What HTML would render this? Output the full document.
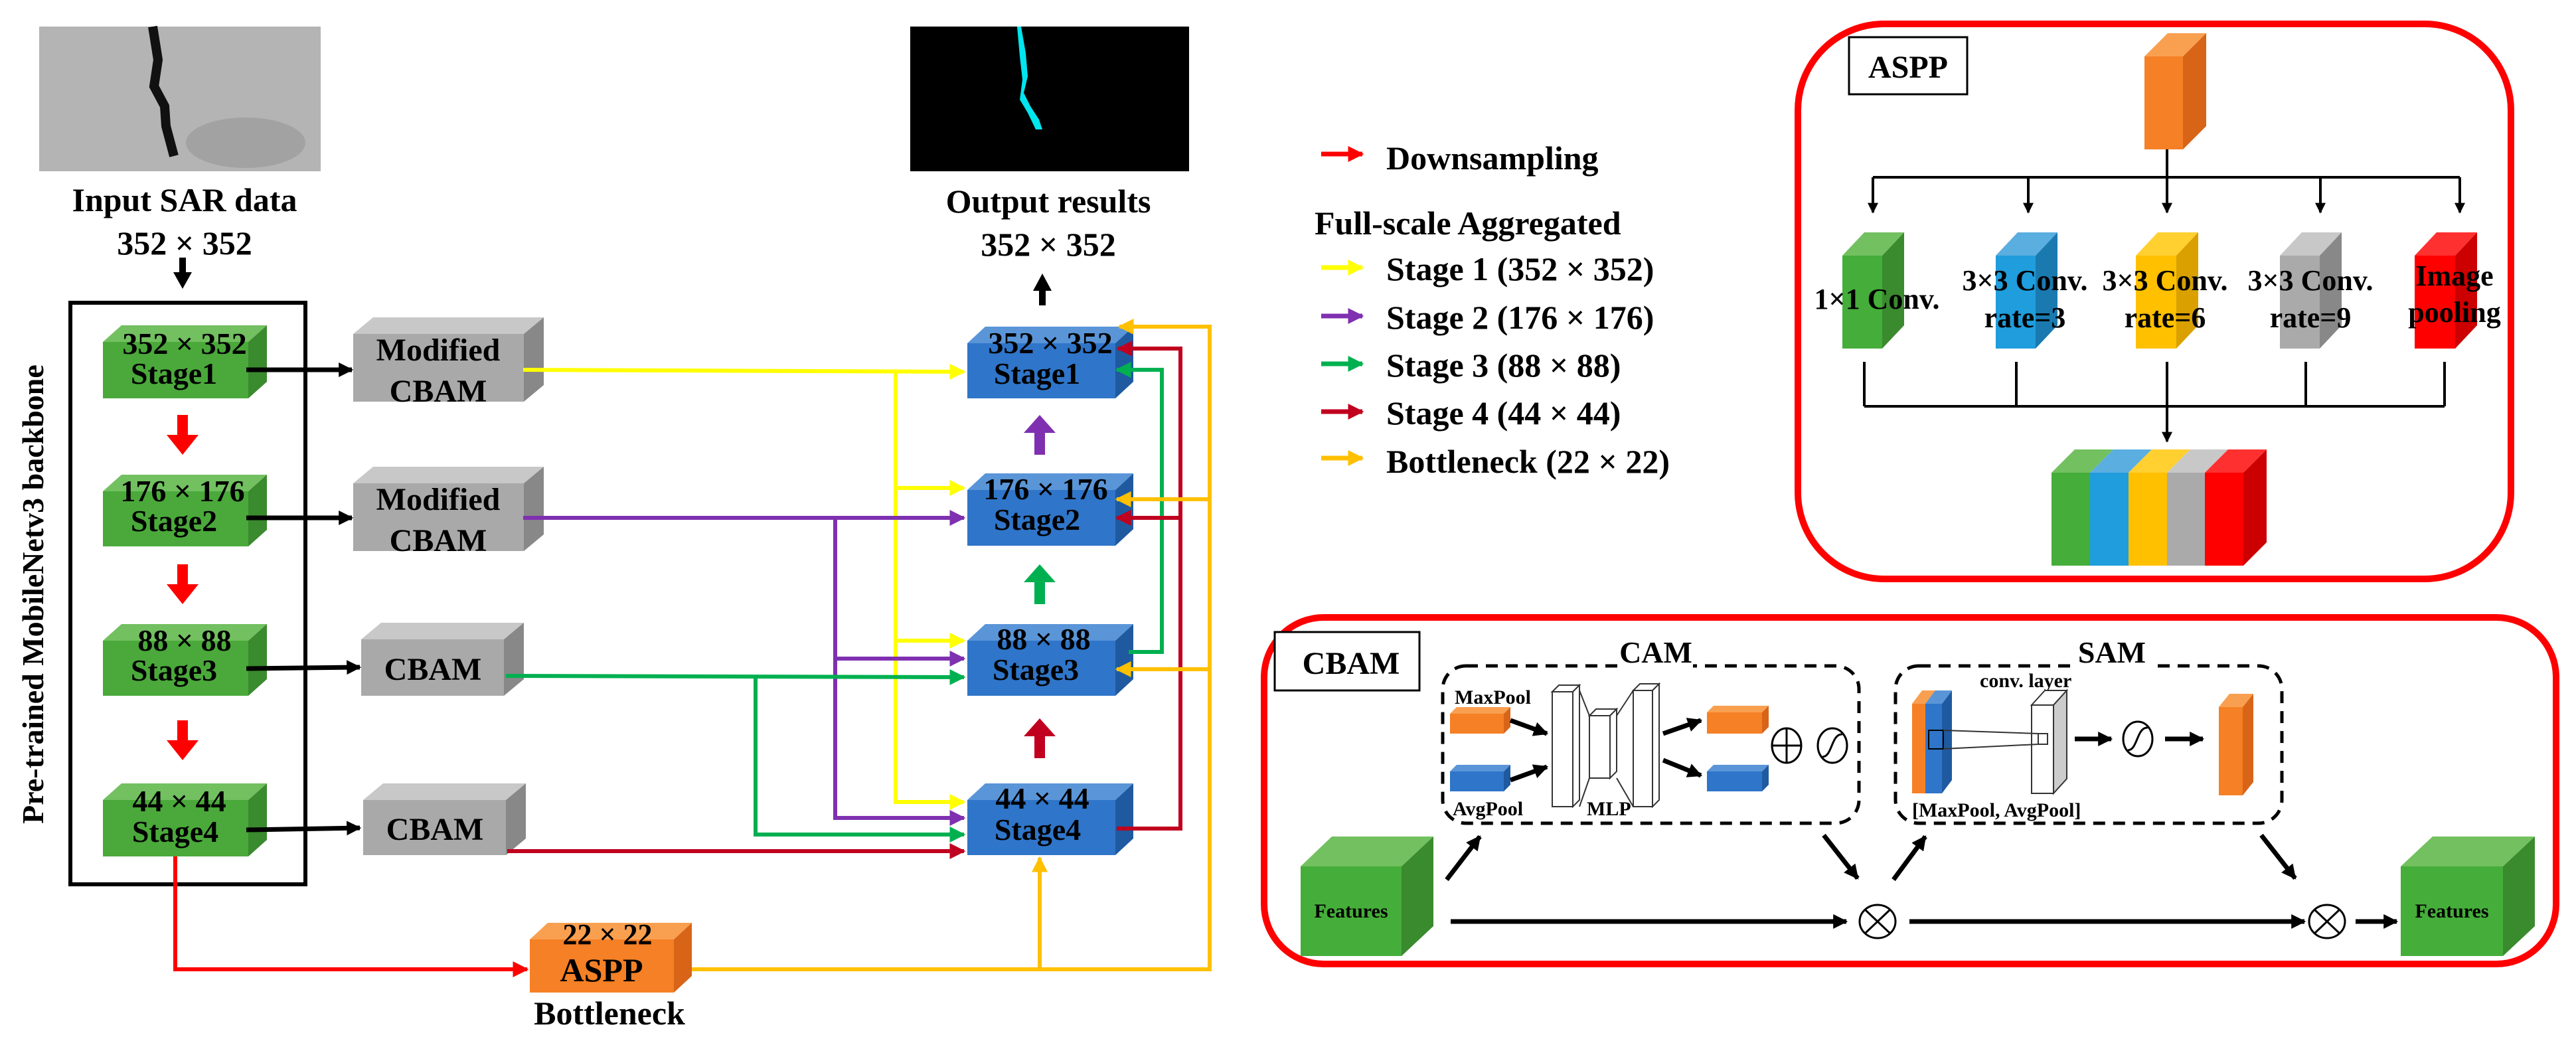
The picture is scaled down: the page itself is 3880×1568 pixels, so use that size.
<!DOCTYPE html>
<html><head><meta charset="utf-8"><style>html,body{margin:0;padding:0;background:#fff}svg{display:block}</style></head><body>
<svg width="3880" height="1568" viewBox="0 0 3880 1568" xmlns="http://www.w3.org/2000/svg" font-family="Liberation Serif, serif" font-weight="bold">
<defs>
<marker id="mk" viewBox="0 0 10 10" refX="9" refY="5" markerWidth="22" markerHeight="22" markerUnits="userSpaceOnUse" orient="auto"><path d="M0,0L10,5L0,10z" fill="#000"/></marker>
<marker id="my" viewBox="0 0 10 10" refX="9" refY="5" markerWidth="24" markerHeight="24" markerUnits="userSpaceOnUse" orient="auto"><path d="M0,0L10,5L0,10z" fill="#ffff00"/></marker>
<marker id="mp" viewBox="0 0 10 10" refX="9" refY="5" markerWidth="24" markerHeight="24" markerUnits="userSpaceOnUse" orient="auto"><path d="M0,0L10,5L0,10z" fill="#7f30b0"/></marker>
<marker id="mg" viewBox="0 0 10 10" refX="9" refY="5" markerWidth="24" markerHeight="24" markerUnits="userSpaceOnUse" orient="auto"><path d="M0,0L10,5L0,10z" fill="#00b050"/></marker>
<marker id="mc" viewBox="0 0 10 10" refX="9" refY="5" markerWidth="24" markerHeight="24" markerUnits="userSpaceOnUse" orient="auto"><path d="M0,0L10,5L0,10z" fill="#c0001e"/></marker>
<marker id="mo" viewBox="0 0 10 10" refX="9" refY="5" markerWidth="24" markerHeight="24" markerUnits="userSpaceOnUse" orient="auto"><path d="M0,0L10,5L0,10z" fill="#ffc000"/></marker>
<marker id="mr" viewBox="0 0 10 10" refX="9" refY="5" markerWidth="24" markerHeight="24" markerUnits="userSpaceOnUse" orient="auto"><path d="M0,0L10,5L0,10z" fill="#ff0000"/></marker>
<marker id="ms" viewBox="0 0 10 10" refX="9" refY="5" markerWidth="16" markerHeight="16" markerUnits="userSpaceOnUse" orient="auto"><path d="M0,0L10,5L0,10z" fill="#000"/></marker>
</defs>

<!-- input image -->
<rect x="59" y="40" width="424" height="218" fill="#b4b4b4"/>
<ellipse cx="370" cy="215" rx="90" ry="38" fill="#a2a2a2"/>
<path d="M230,40 L238,90 L232,130 L248,160 L250,190 L262,235" stroke="#111" stroke-width="14" fill="none"/>
<text x="278" y="318" font-size="50" text-anchor="middle">Input SAR data</text>
<text x="278" y="383" font-size="50" text-anchor="middle">352 × 352</text>
<path d="M275,388 V412" stroke="#000" stroke-width="10"/><path d="M261,410 L289,410 L275,435z"/>

<!-- output image -->
<rect x="1371" y="40" width="420" height="218" fill="#000"/>
<path d="M1538,40 L1545,80 L1548,115 L1542,140 L1552,160 L1565,180 L1570,195 L1560,195 L1548,170 L1536,150 L1540,120 L1536,85 L1532,40z" fill="#00e5ee"/>
<text x="1579" y="320" font-size="50" text-anchor="middle">Output results</text>
<text x="1579" y="385" font-size="50" text-anchor="middle">352 × 352</text>
<path d="M1570,435 V460" stroke="#000" stroke-width="10"/><path d="M1556,438 L1584,438 L1570,412z"/>

<!-- backbone box -->
<rect x="106" y="456" width="354" height="876" fill="none" stroke="#000" stroke-width="6"/>
<text transform="translate(65,895) rotate(-90)" font-size="46" text-anchor="middle">Pre-trained MobileNetv3 backbone</text>

<g>
<polygon points="155,515 183,490 402,490 374,515" fill="#72c060"/><polygon points="374,515 402,490 402,575 374,600" fill="#3a8a2e"/><rect x="155" y="515" width="219" height="85" fill="#4aa93a"/>
<polygon points="155,740 183,715 402,715 374,740" fill="#72c060"/><polygon points="374,740 402,715 402,798 374,823" fill="#3a8a2e"/><rect x="155" y="740" width="219" height="83" fill="#4aa93a"/>
<polygon points="155,965 183,940 402,940 374,965" fill="#72c060"/><polygon points="374,965 402,940 402,1023 374,1048" fill="#3a8a2e"/><rect x="155" y="965" width="219" height="83" fill="#4aa93a"/>
<polygon points="155,1205 183,1180 402,1180 374,1205" fill="#72c060"/><polygon points="374,1205 402,1180 402,1265 374,1290" fill="#3a8a2e"/><rect x="155" y="1205" width="219" height="85" fill="#4aa93a"/>
</g>
<g font-size="46" text-anchor="middle">
<text x="278" y="533">352 × 352</text><text x="262" y="578">Stage1</text>
<text x="275" y="755">176 × 176</text><text x="262" y="800">Stage2</text>
<text x="278" y="980">88 × 88</text><text x="262" y="1025">Stage3</text>
<text x="270" y="1222">44 × 44</text><text x="264" y="1268">Stage4</text>
</g>
<g fill="#ff0000">
<rect x="267" y="625" width="16" height="32"/><path d="M251,655 L299,655 L275,685z"/>
<rect x="267" y="850" width="16" height="32"/><path d="M251,880 L299,880 L275,910z"/>
<rect x="267" y="1085" width="16" height="32"/><path d="M251,1115 L299,1115 L275,1145z"/>
</g>
<g stroke="#000" stroke-width="7" marker-end="url(#mk)">
<line x1="371" y1="557" x2="530" y2="557"/><line x1="371" y1="780" x2="530" y2="780"/>
<line x1="371" y1="1007" x2="542" y2="1005"/><line x1="371" y1="1250" x2="542" y2="1247"/>
</g>
<polygon points="532,503 562,478 819,478 789,503" fill="#c8c8c8"/><polygon points="789,503 819,478 819,580 789,605" fill="#888"/><rect x="532" y="503" width="257" height="102" fill="#a9a9a9"/>
<polygon points="532,728 562,703 819,703 789,728" fill="#c8c8c8"/><polygon points="789,728 819,703 819,805 789,830" fill="#888"/><rect x="532" y="728" width="257" height="102" fill="#a9a9a9"/>
<polygon points="544,963 574,938 789,938 759,963" fill="#c8c8c8"/><polygon points="759,963 789,938 789,1023 759,1048" fill="#888"/><rect x="544" y="963" width="215" height="85" fill="#a9a9a9"/>
<polygon points="547,1205 577,1180 792,1180 762,1205" fill="#c8c8c8"/><polygon points="762,1205 792,1180 792,1263 762,1288" fill="#888"/><rect x="547" y="1205" width="215" height="83" fill="#a9a9a9"/>
<g font-size="48" text-anchor="middle">
<text x="660" y="543">Modified</text><text x="660" y="605">CBAM</text>
<text x="660" y="768">Modified</text><text x="660" y="830">CBAM</text>
<text x="652" y="1024">CBAM</text><text x="655" y="1265">CBAM</text>
</g>

<g fill="none" stroke-width="6">
<polyline points="788,557 1452,560" stroke="#ffff00" marker-end="url(#my)"/>
<polyline points="1349,560 1349,1208 1452,1208" stroke="#ffff00" marker-end="url(#my)"/>
<polyline points="1349,735 1452,735" stroke="#ffff00" marker-end="url(#my)"/>
<polyline points="1349,965 1452,965" stroke="#ffff00" marker-end="url(#my)"/>
<polyline points="788,780 1452,780" stroke="#7f30b0" marker-end="url(#mp)"/>
<polyline points="1258,780 1258,1232 1452,1232" stroke="#7f30b0" marker-end="url(#mp)"/>
<polyline points="1258,992 1452,992" stroke="#7f30b0" marker-end="url(#mp)"/>
<polyline points="762,1018 1452,1020" stroke="#00b050" marker-end="url(#mg)"/>
<polyline points="1138,1020 1138,1257 1452,1257" stroke="#00b050" marker-end="url(#mg)"/>
<polyline points="764,1282 1452,1282" stroke="#c0001e" marker-end="url(#mc)"/>
<polyline points="264,1290 264,1460 794,1460" stroke="#ff0000" marker-end="url(#mr)"/>
</g>

<polygon points="1457,517 1484,492 1707,492 1680,517" fill="#5a95d8"/><polygon points="1680,517 1707,492 1707,575 1680,600" fill="#1f5aa0"/><rect x="1457" y="517" width="223" height="83" fill="#2f75c9"/>
<polygon points="1457,738 1484,713 1707,713 1680,738" fill="#5a95d8"/><polygon points="1680,738 1707,713 1707,797 1680,822" fill="#1f5aa0"/><rect x="1457" y="738" width="223" height="84" fill="#2f75c9"/>
<polygon points="1457,965 1484,940 1707,940 1680,965" fill="#5a95d8"/><polygon points="1680,965 1707,940 1707,1023 1680,1048" fill="#1f5aa0"/><rect x="1457" y="965" width="223" height="83" fill="#2f75c9"/>
<polygon points="1457,1205 1484,1180 1707,1180 1680,1205" fill="#5a95d8"/><polygon points="1680,1205 1707,1180 1707,1263 1680,1288" fill="#1f5aa0"/><rect x="1457" y="1205" width="223" height="83" fill="#2f75c9"/>
<g font-size="46" text-anchor="middle">
<text x="1582" y="532">352 × 352</text><text x="1562" y="578">Stage1</text>
<text x="1575" y="752">176 × 176</text><text x="1562" y="798">Stage2</text>
<text x="1572" y="978">88 × 88</text><text x="1560" y="1024">Stage3</text>
<text x="1570" y="1218">44 × 44</text><text x="1563" y="1265">Stage4</text>
</g>

<g fill="none" stroke-width="6">
<polyline points="1700,982 1750,982 1750,557 1682,557" stroke="#00b050" marker-end="url(#mg)"/>
<polyline points="1682,1248 1778,1248 1778,525 1684,525" stroke="#c0001e" marker-end="url(#mc)"/>
<polyline points="1778,780 1682,780" stroke="#c0001e" marker-end="url(#mc)"/>
<polyline points="1042,1460 1822,1460 1822,492 1686,492" stroke="#ffc000" marker-end="url(#mo)"/>
<polyline points="1822,752 1682,752" stroke="#ffc000" marker-end="url(#mo)"/>
<polyline points="1822,1008 1682,1008" stroke="#ffc000" marker-end="url(#mo)"/>
<polyline points="1566,1460 1566,1292" stroke="#ffc000" marker-end="url(#mo)"/>
</g>

<rect x="1558" y="650" width="16" height="35" fill="#7f30b0"/><path d="M1542,652 L1590,652 L1566,625z" fill="#7f30b0"/>
<rect x="1558" y="875" width="16" height="35" fill="#00b050"/><path d="M1542,877 L1590,877 L1566,850z" fill="#00b050"/>
<rect x="1558" y="1107" width="16" height="35" fill="#c0001e"/><path d="M1542,1109 L1590,1109 L1566,1082z" fill="#c0001e"/>

<polygon points="798,1415 825,1390 1042,1390 1015,1415" fill="#f9a050"/><polygon points="1015,1415 1042,1390 1042,1470 1015,1495" fill="#d86418"/><rect x="798" y="1415" width="217" height="80" fill="#f58025"/>
<text x="915" y="1422" font-size="44" text-anchor="middle">22 × 22</text>
<text x="906" y="1478" font-size="50" text-anchor="middle">ASPP</text>
<text x="918" y="1543" font-size="50" text-anchor="middle">Bottleneck</text>

<g font-size="50">
<line x1="1990" y1="232" x2="2052" y2="232" stroke="#ff0000" stroke-width="7" marker-end="url(#mr)"/>
<text x="2088" y="255">Downsampling</text>
<text x="1980" y="353">Full-scale Aggregated</text>
<line x1="1990" y1="403" x2="2052" y2="403" stroke="#ffff00" stroke-width="7" marker-end="url(#my)"/>
<text x="2088" y="422">Stage 1 (352 × 352)</text>
<line x1="1990" y1="476" x2="2052" y2="476" stroke="#7f30b0" stroke-width="7" marker-end="url(#mp)"/>
<text x="2088" y="495">Stage 2 (176 × 176)</text>
<line x1="1990" y1="548" x2="2052" y2="548" stroke="#00b050" stroke-width="7" marker-end="url(#mg)"/>
<text x="2088" y="567">Stage 3 (88 × 88)</text>
<line x1="1990" y1="620" x2="2052" y2="620" stroke="#c0001e" stroke-width="7" marker-end="url(#mc)"/>
<text x="2088" y="639">Stage 4 (44 × 44)</text>
<line x1="1990" y1="690" x2="2052" y2="690" stroke="#ffc000" stroke-width="7" marker-end="url(#mo)"/>
<text x="2088" y="712">Bottleneck (22 × 22)</text>
</g>

<rect x="2708" y="36" width="1074" height="836" rx="130" fill="none" stroke="#ff0000" stroke-width="10"/>
<rect x="2785" y="56" width="178" height="86" fill="#fff" stroke="#000" stroke-width="3"/>
<text x="2874" y="117" font-size="48" text-anchor="middle">ASPP</text>
<polygon points="3230,85 3265,50 3323,50 3288,85" fill="#f9a050"/><polygon points="3288,85 3323,50 3323,190 3288,225" fill="#d86418"/><rect x="3230" y="85" width="58" height="140" fill="#f58025"/>
<g stroke="#000" stroke-width="4" fill="none">
<path d="M3264,225 V267 M2821,267 H3705"/>
<line x1="2821" y1="267" x2="2821" y2="320" marker-end="url(#ms)"/>
<line x1="3055" y1="267" x2="3055" y2="320" marker-end="url(#ms)"/>
<line x1="3264" y1="267" x2="3264" y2="320" marker-end="url(#ms)"/>
<line x1="3495" y1="267" x2="3495" y2="320" marker-end="url(#ms)"/>
<line x1="3705" y1="267" x2="3705" y2="320" marker-end="url(#ms)"/>
<path d="M2808,545 V612 M3037,545 V612 M3473,545 V612 M3682,545 V612 M2808,612 H3682 M3264,545 V612"/>
<line x1="3264" y1="612" x2="3264" y2="665" marker-end="url(#ms)"/>
</g>
<g>
<polygon points="2775,385 2808,350 2868,350 2835,385" fill="#72c060"/><polygon points="2835,385 2868,350 2868,490 2835,525" fill="#3a8a2e"/><rect x="2775" y="385" width="60" height="140" fill="#45ad3a"/>
<polygon points="3006,385 3039,350 3099,350 3066,385" fill="#5aaee0"/><polygon points="3066,385 3099,350 3099,490 3066,525" fill="#1a7ab0"/><rect x="3006" y="385" width="60" height="140" fill="#1f9ddc"/>
<polygon points="3217,385 3250,350 3311,350 3278,385" fill="#ffd030"/><polygon points="3278,385 3311,350 3311,490 3278,525" fill="#d9a000"/><rect x="3217" y="385" width="61" height="140" fill="#ffc000"/>
<polygon points="3434,385 3467,350 3527,350 3494,385" fill="#c8c8c8"/><polygon points="3494,385 3527,350 3527,490 3494,525" fill="#888"/><rect x="3434" y="385" width="60" height="140" fill="#aaa"/>
<polygon points="3637,385 3670,350 3731,350 3698,385" fill="#ff3030"/><polygon points="3698,385 3731,350 3731,490 3698,525" fill="#cc0000"/><rect x="3637" y="385" width="61" height="140" fill="#ff0000"/>
</g>
<g font-size="44" text-anchor="middle">
<text x="2827" y="465">1×1 Conv.</text>
<text x="3050" y="437">3×3 Conv.</text><text x="3050" y="493">rate=3</text>
<text x="3261" y="437">3×3 Conv.</text><text x="3261" y="493">rate=6</text>
<text x="3480" y="437">3×3 Conv.</text><text x="3480" y="493">rate=9</text>
<text x="3697" y="430">Image</text><text x="3697" y="485">pooling</text>
</g>
<polygon points="3090,712 3125,677 3183,677 3148,712" fill="#72c060"/>
<polygon points="3148,712 3183,677 3241,677 3206,712" fill="#5aaee0"/>
<polygon points="3206,712 3241,677 3299,677 3264,712" fill="#ffd030"/>
<polygon points="3264,712 3299,677 3356,677 3321,712" fill="#c8c8c8"/>
<polygon points="3321,712 3356,677 3414,677 3379,712" fill="#ff3030"/>
<polygon points="3379,712 3414,677 3414,817 3379,852" fill="#cc0000"/>
<rect x="3090" y="712" width="58" height="140" fill="#45ad3a"/><rect x="3148" y="712" width="58" height="140" fill="#1f9ddc"/><rect x="3206" y="712" width="58" height="140" fill="#ffc000"/><rect x="3264" y="712" width="57" height="140" fill="#aaa"/><rect x="3321" y="712" width="58" height="140" fill="#ff0000"/>

<rect x="1904" y="930" width="1946" height="522" rx="90" fill="none" stroke="#ff0000" stroke-width="10"/>
<rect x="1920" y="952" width="218" height="88" fill="#fff" stroke="#000" stroke-width="3"/>
<text x="2035" y="1015" font-size="48" text-anchor="middle">CBAM</text>
<rect x="2173" y="1003" width="627" height="237" rx="35" fill="none" stroke="#000" stroke-width="5" stroke-dasharray="18,12"/>
<rect x="2855" y="1003" width="582" height="237" rx="35" fill="none" stroke="#000" stroke-width="5" stroke-dasharray="18,12"/>
<rect x="2440" y="962" width="110" height="44" fill="#fff"/><text x="2494" y="998" font-size="46" text-anchor="middle">CAM</text>
<rect x="3128" y="962" width="110" height="44" fill="#fff"/><text x="3181" y="998" font-size="46" text-anchor="middle">SAM</text>
<polygon points="1959,1305 2006,1260 2159,1260 2111,1305" fill="#72c060"/><polygon points="2111,1305 2159,1260 2159,1395 2111,1440" fill="#3a8a2e"/><rect x="1959" y="1305" width="152" height="135" fill="#45ad3a"/>
<polygon points="3616,1305 3664,1260 3818,1260 3770,1305" fill="#72c060"/><polygon points="3770,1305 3818,1260 3818,1395 3770,1440" fill="#3a8a2e"/><rect x="3616" y="1305" width="154" height="135" fill="#45ad3a"/>
<text x="2035" y="1382" font-size="30" text-anchor="middle">Features</text>
<text x="3693" y="1382" font-size="30" text-anchor="middle">Features</text>
<g stroke="#000" stroke-width="7" fill="none">
<line x1="2185" y1="1388" x2="2781" y2="1388" marker-end="url(#mk)"/>
<line x1="2876" y1="1388" x2="3471" y2="1388" marker-end="url(#mk)"/>
<line x1="3548" y1="1388" x2="3610" y2="1388" marker-end="url(#mk)"/>
<line x1="2179" y1="1325" x2="2229" y2="1260" marker-end="url(#mk)"/>
<line x1="2747" y1="1258" x2="2798" y2="1323" marker-end="url(#mk)"/>
<line x1="2852" y1="1325" x2="2900" y2="1260" marker-end="url(#mk)"/>
<line x1="3406" y1="1258" x2="3457" y2="1323" marker-end="url(#mk)"/>
</g>
<g stroke="#000" stroke-width="3" fill="#fff">
<ellipse cx="2828" cy="1388" rx="27" ry="25"/><path d="M2809,1370 L2847,1406 M2847,1370 L2809,1406"/>
<ellipse cx="3505" cy="1388" rx="27" ry="25"/><path d="M3486,1370 L3524,1406 M3524,1370 L3486,1406"/>
</g>
<g font-size="30"><text x="2191" y="1060">MaxPool</text><text x="2188" y="1228">AvgPool</text><text x="2390" y="1228">MLP</text>
<text x="2982" y="1035">conv. layer</text><text x="2880" y="1230">[MaxPool, AvgPool]</text></g>
<polygon points="2184,1075 2194,1065 2275,1065 2265,1075" fill="#f9a050"/><polygon points="2265,1075 2275,1065 2275,1095 2265,1105" fill="#d86418"/><rect x="2184" y="1075" width="81" height="30" fill="#f58025"/>
<polygon points="2184,1162 2194,1152 2275,1152 2265,1162" fill="#5a95d8"/><polygon points="2265,1162 2275,1152 2275,1182 2265,1192" fill="#1f5aa0"/><rect x="2184" y="1162" width="81" height="30" fill="#2f75c9"/>
<polygon points="2571,1073 2581,1063 2664,1063 2654,1073" fill="#f9a050"/><polygon points="2654,1073 2664,1063 2664,1095 2654,1105" fill="#d86418"/><rect x="2571" y="1073" width="83" height="32" fill="#f58025"/>
<polygon points="2571,1162 2581,1152 2664,1152 2654,1162" fill="#5a95d8"/><polygon points="2654,1162 2664,1152 2664,1182 2654,1192" fill="#1f5aa0"/><rect x="2571" y="1162" width="83" height="30" fill="#2f75c9"/>
<g stroke="#333" stroke-width="2" fill="#fff">
<polygon points="2338,1042 2348,1032 2379,1032 2369,1042"/><rect x="2338" y="1042" width="31" height="173"/><polygon points="2369,1042 2379,1032 2379,1205 2369,1215"/>
<polygon points="2394,1078 2404,1068 2435,1068 2425,1078"/><rect x="2394" y="1078" width="31" height="94"/><polygon points="2425,1078 2435,1068 2435,1162 2425,1172"/>
<polygon points="2460,1040 2470,1030 2499,1030 2489,1040"/><rect x="2460" y="1040" width="29" height="175"/><polygon points="2489,1040 2499,1030 2499,1205 2489,1215"/>
<path d="M2379,1040 L2394,1078 M2379,1215 L2394,1172 M2435,1078 L2460,1040 M2435,1172 L2460,1215" fill="none"/>
</g>
<g stroke="#000" stroke-width="7">
<line x1="2275" y1="1085" x2="2330" y2="1105" marker-end="url(#mk)"/>
<line x1="2275" y1="1175" x2="2330" y2="1155" marker-end="url(#mk)"/>
<line x1="2505" y1="1105" x2="2562" y2="1085" marker-end="url(#mk)"/>
<line x1="2505" y1="1145" x2="2562" y2="1168" marker-end="url(#mk)"/>
<line x1="3125" y1="1113" x2="3180" y2="1113" marker-end="url(#mk)"/>
<line x1="3261" y1="1113" x2="3318" y2="1113" marker-end="url(#mk)"/>
</g>
<g stroke="#000" stroke-width="3" fill="#fff">
<ellipse cx="2691" cy="1123" rx="22" ry="26"/><path d="M2669,1123 H2713 M2691,1097 V1149"/>
<ellipse cx="2760" cy="1123" rx="22" ry="26"/><path d="M2745,1140 C2760,1140 2758,1105 2775,1106" fill="none"/>
<ellipse cx="3220" cy="1113" rx="22" ry="26"/><path d="M3205,1130 C3220,1130 3218,1095 3235,1096" fill="none"/>
</g>
<polygon points="2880,1060 2895,1040 2935,1040 2920,1060" fill="#f9a050"/><rect x="2880" y="1060" width="20" height="135" fill="#f58025"/>
<rect x="2900" y="1060" width="25" height="135" fill="#2f75c9"/><polygon points="2925,1060 2940,1040 2940,1175 2925,1195" fill="#1f5aa0"/><polygon points="2900,1060 2915,1040 2940,1040 2925,1060" fill="#5a95d8"/>
<rect x="2905" y="1100" width="22" height="28" fill="none" stroke="#000" stroke-width="2"/>
<g stroke="#333" stroke-width="2" fill="#fff">
<polygon points="3060,1062 3080,1040 3113,1040 3093,1062"/><rect x="3060" y="1062" width="33" height="133"/><polygon points="3093,1062 3113,1040 3113,1173 3093,1195" fill="#ccc"/>
<rect x="3070" y="1105" width="14" height="16"/>
<path d="M2927,1100 L3070,1105 M2927,1128 L3070,1121" fill="none"/>
</g>
<polygon points="3342,1065 3358,1045 3394,1045 3378,1065" fill="#f9a050"/><polygon points="3378,1065 3394,1045 3394,1178 3378,1198" fill="#d86418"/><rect x="3342" y="1065" width="36" height="133" fill="#f58025"/>
</svg>
</body></html>
